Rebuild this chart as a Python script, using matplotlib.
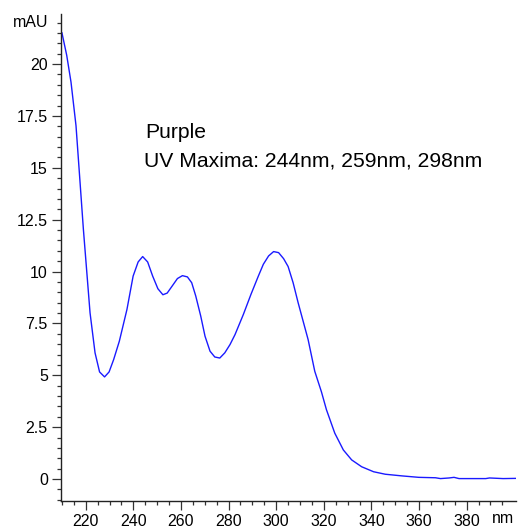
import numpy as np
import matplotlib
matplotlib.use('Agg')
import matplotlib.pyplot as plt
from matplotlib.ticker import FixedLocator, MultipleLocator
import matplotlib.transforms as mtransforms

plt.rcParams['font.family'] = ['Liberation Sans', 'DejaVu Sans']

# spectrum (wavelength in nm, absorbance in mAU)
wavelength = [210, 212, 213.8, 215.9, 217.6, 219, 221.8, 223.9, 225.8, 227.9,
              229.8, 231.7, 234.1, 237.3, 239.9, 242, 243.9, 246, 248.1, 250.3,
              252.4, 254.2, 256.3, 258.5, 260.6, 262.7, 264.5, 266.2, 268.3, 270.1,
              272.2, 274.2, 276.3, 278.4, 280.6, 282.7, 286.2, 289.4, 292.5, 294.6,
              296.8, 298.9, 301, 303.1, 305, 307.1, 309.2, 313.4, 316.2, 319,
              321.1, 324.6, 328.2, 331.7, 335.9, 340.9, 345.8, 352.8, 359.9, 366.9,
              369, 372.6, 374.7, 376.8, 388, 389.6, 395.3, 400.5]
absorb = [21.5, 20.42, 19.13, 17.03, 14.3, 12.04, 8.01, 6.08, 5.16, 4.92,
          5.16, 5.75, 6.64, 8.17, 9.78, 10.46, 10.72, 10.46, 9.78, 9.17,
          8.88, 8.96, 9.3, 9.66, 9.8, 9.74, 9.46, 8.82, 7.85, 6.88,
          6.16, 5.88, 5.83, 6.08, 6.48, 6.96, 7.93, 8.9, 9.78, 10.35,
          10.75, 10.96, 10.91, 10.62, 10.24, 9.46, 8.5, 6.72, 5.19, 4.2,
          3.34, 2.21, 1.40, 0.92, 0.59, 0.35, 0.23, 0.15, 0.08, 0.06,
          0.02, 0.05, 0.08, 0.02, 0.02, 0.05, 0.02, 0.03]

sample = 'Purple'
maxima = [244, 259, 298]

fig = plt.figure(figsize=(5.18, 5.31), dpi=100)
ax = fig.add_axes([61/518, 1-501/531, (515.7-61)/518, (501-14)/531])

ax.plot(wavelength, absorb, color='#1a1aff', lw=1.0)

ax.set_xlim(209.6, 400.6)
ax.set_ylim(-1.06, 22.41)

ax.xaxis.set_major_locator(FixedLocator(np.arange(220, 400, 20)))
ax.xaxis.set_minor_locator(FixedLocator(np.arange(210, 400, 5)))
ax.yaxis.set_major_locator(MultipleLocator(2.5))
ax.yaxis.set_minor_locator(MultipleLocator(0.5))
ax.yaxis.set_major_formatter(plt.FuncFormatter(lambda v, p: ('%g' % v)))

for s in ['top', 'right']:
    ax.spines[s].set_visible(False)
for s in ['left', 'bottom']:
    ax.spines[s].set_linewidth(1.0)
    ax.spines[s].set_color('#222222')

ax.tick_params(which='major', length=6.5, width=0.9, color='#333333',
               labelsize=11.5, pad=3)
ax.tick_params(which='minor', length=3.2, width=0.9, color='#333333')
ax.tick_params(axis='x', which='major', pad=2.5)

# unit labels
trans = mtransforms.blended_transform_factory(ax.transAxes, ax.transData)
ax.text(-0.028, 22.0, 'mAU', transform=trans, ha='right', va='center', fontsize=11.5)
trans2 = mtransforms.blended_transform_factory(ax.transData, ax.transAxes)
ax.text(395.3, -0.0205, 'nm', transform=trans2, ha='center', va='top', fontsize=11.5)

fig.text(145/518, 1-138.3/531, sample, fontsize=15.2, va='baseline')
fig.text(143.5/518, 1-166.7/531,
         'UV Maxima: ' + ', '.join('%dnm' % m for m in maxima),
         fontsize=15.2, va='baseline')

fig.savefig('out.png', dpi=100)
